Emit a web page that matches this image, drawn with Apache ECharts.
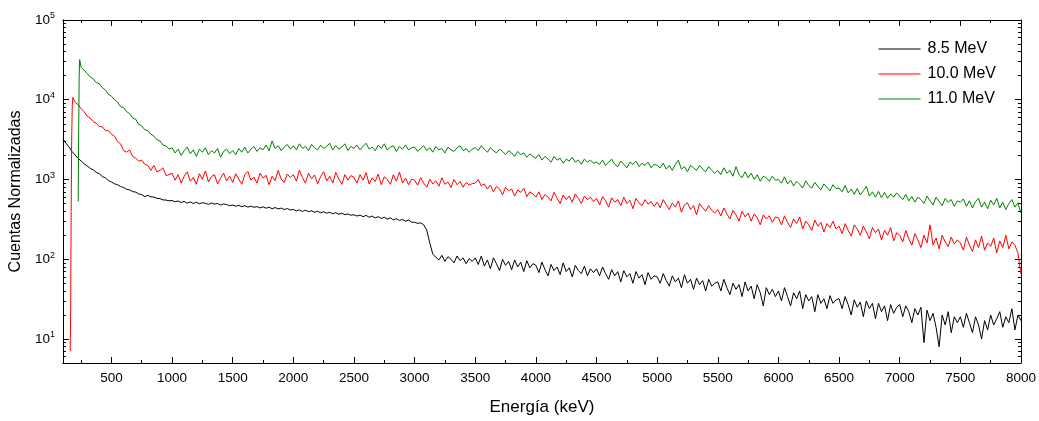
<!DOCTYPE html>
<html>
<head>
<meta charset="utf-8">
<script src="https://cdn.jsdelivr.net/npm/echarts@6/dist/echarts.min.js"></script>
<style>html,body{margin:0;padding:0;background:#fff}#c{width:1039px;height:421px}</style>
</head>
<body>
<div id="c"></div>
<script>
// ---- data ----
const seriesNames = ['8.5 MeV', '10.0 MeV', '11.0 MeV'];
const xTickValues = [500,1000,1500,2000,2500,3000,3500,4000,4500,5000,5500,6000,6500,7000,7500,8000];
const xMinorTickValues = [250,750,1250,1750,2250,2750,3250,3750,4250,4750,5250,5750,6250,6750,7250,7750];
const yTickValues = [10,100,1000,10000,100000];
const yMinorTickValues = [5,6,7,8,9,20,30,40,50,60,70,80,90,200,300,400,500,600,700,800,900,2000,3000,4000,5000,6000,7000,8000,9000,20000,30000,40000,50000,60000,70000,80000,90000];

// heads (low-energy part), energies in keV
const blackHeadE = [100,125,150,175,200,225,250,275,300,325,350,375,400,425,450,475,500,525,550,575,600,625,650,675,700,725,750,775,800,825,850,875,900,925,950,975];
const blackHead  = [3230,2850,2560,2240,2030,1840,1710,1570,1480,1380,1320,1230,1180,1090,1050,970,930,885,860,815,795,755,740,705,695,660,645,610,632,605,603,580,575,555,552,540];

const redHeadE = [160,164,168,172,177,182,190,200,225,250,275,300,325,350,375,400,425,450,475,500,525,550,575,600,625,650,675,700,725,750,775,800,825,850,875,900,925,950,975];
const redHead  = [7,25,400,3000,8500,10700,10100,9300,8700,7700,7100,6200,5900,5300,5100,4600,4600,4100,4100,3700,3500,3000,2800,2300,2200,2350,1950,1850,1700,1750,1550,1500,1300,1500,1250,1300,1400,1120,1150];

const greenHeadE = [226,230,234,238,242,250,275,300,325,350,375,400,425,450,475,500,525,550,575,600,625,650,675,700,725,750,775,800,825,850,875,900,925,950,975];
const greenHead  = [530,4000,20000,31900,30500,25500,23500,21300,19300,18200,16400,15900,14100,13300,11700,11100,10000,9400,8200,8000,7100,6700,5900,5700,4900,4700,4200,4100,3700,3500,3150,3050,2700,2650,2400];

// tails on a 25 keV channel grid from 1000 to 8000 keV
const tailStart = 1000, tailStep = 25;
const blackTail = [
545,525,538,515,530,505,524,500,518,496,512,503,488,508,492,500,478,494,485,470,
478,462,474,455,470,450,463,448,458,440,455,436,450,430,445,428,438,420,432,415,
420,405,416,398,412,395,405,388,400,382,394,378,388,372,384,366,378,362,370,356,
362,348,358,342,355,336,348,330,342,324,336,318,330,312,322,306,316,300,310,292,
290,282,286,270,232,160,116,106,98,112,94,108,100,90,110,96,104,88,102,94,
104,86,110,82,98,76,104,88,72,100,84,94,74,98,80,92,70,96,78,88,
84,68,92,74,62,86,72,80,64,90,70,78,60,84,72,66,82,62,76,68,
76,62,80,66,56,74,62,70,52,72,60,66,50,70,58,64,48,68,56,62,
60,50,66,54,46,62,52,58,44,64,50,56,42,58,48,54,40,56,46,50,
52,40,56,44,36,50,42,48,34,52,40,46,32,48,38,26,44,36,42,34,
40,30,44,34,26,38,32,40,24,36,30,34,22,36,28,32,24,35,28,31,
32,24,34,27,20,31,25,29,19,30,24,28,18,28,22,26,17,27,21,25,
27,19,26,22,16,24,20,25,9,23,17,21,14,8,20,15,22,12,19,16,
19,14,21,16,12,19,15,10,17,13,20,15,18,22,14,19,16,24,13,20,
17];
const redTail = [
1200,980,1150,900,1100,1250,950,1060,870,1180,1010,1280,930,1090,1150,880,1040,1200,960,1100,
920,1180,1010,870,1150,1260,980,1070,900,1200,1040,1130,860,1100,970,1300,1010,920,1170,1060,
1150,950,1310,1060,900,1200,1020,1140,880,1090,1250,960,1100,900,1230,1010,870,1150,980,1120,
1060,900,1150,980,1220,880,1050,940,1170,860,1080,1000,870,1150,950,1240,900,1040,860,1010,
980,850,1060,900,800,1010,880,960,820,1050,870,930,790,1000,860,940,800,920,850,890,
900,1000,830,880,760,850,700,820,760,640,800,720,760,620,740,690,780,610,700,660,
600,700,560,650,600,540,690,580,500,640,560,620,520,660,580,500,620,560,600,530,
580,480,610,540,450,590,520,560,470,600,500,550,430,580,510,470,560,490,530,460,
520,440,560,480,420,510,450,540,390,480,510,420,470,360,500,440,400,470,410,380,
420,350,440,370,320,410,360,300,400,340,380,300,370,330,270,360,320,350,290,340,
330,270,350,290,250,320,280,340,240,300,270,230,310,260,290,220,280,250,300,240,
260,210,280,230,195,270,240,200,260,220,180,250,215,240,175,230,200,250,170,215,
200,165,230,180,150,210,175,140,200,160,270,150,185,135,200,165,145,190,155,175,
160,130,190,150,125,175,140,195,130,160,145,185,120,170,140,200,135,165,150,120,
65];
const greenTail = [
2500,2150,2400,2000,2300,2550,2100,2350,1950,2400,2200,2500,2050,2300,2150,2450,1900,2250,2400,2100,
2300,2050,2450,2200,2550,2150,2400,2600,2250,2500,2350,2700,2300,3050,2450,2650,2300,2550,2750,2400,
2650,2350,2800,2450,2600,2300,2750,2500,2350,2700,2450,2600,2850,2350,2650,2400,2550,2800,2300,2600,
2450,2700,2350,2600,2850,2400,2550,2300,2700,2450,2800,2350,2550,2650,2250,2600,2400,2700,2350,2500,
2550,2250,2450,2650,2300,2500,2200,2600,2350,2450,2150,2550,2350,2250,2500,2650,2300,2450,2200,2400,
2500,2300,2650,2400,2200,2500,2300,2150,2400,2250,2050,2300,2150,1950,2250,2050,2150,1900,2100,1950,
1850,2050,1750,1950,1800,1650,1950,1750,1850,1600,1800,1700,1900,1650,1750,1550,1800,1650,1750,1600,
1650,1550,1750,1500,1650,1800,1550,1450,1700,1550,1400,1650,1550,1700,1450,1600,1500,1650,1400,1550,
1500,1400,1600,1350,1500,1300,1550,1750,1350,1450,1250,1500,1400,1300,1500,1350,1250,1450,1300,1200,
1300,1150,1400,1200,1300,1100,1450,1150,1050,1250,1050,1200,1000,1150,950,1100,1050,950,1100,980,
1000,900,1080,880,980,830,950,870,780,960,840,780,920,820,740,880,800,720,860,770,
780,700,840,680,760,650,770,640,720,820,620,700,600,710,590,690,580,660,600,680,
620,560,650,540,610,520,600,560,500,620,540,480,600,530,470,580,520,560,460,540,
520,570,460,540,440,530,580,450,520,430,550,480,580,440,520,420,500,560,450,510,
380];

// ---- build ----
function build(headE, head, tail) {
  const out = headE.map((e, i) => [e, head[i]]);
  tail.forEach((v, i) => out.push([tailStart + i * tailStep, v]));
  return out;
}
const colors = ['#000000', '#ff0000', '#008000'];
const datasets = [build(blackHeadE, blackHead, blackTail), build(redHeadE, redHead, redTail), build(greenHeadE, greenHead, greenTail)];

const FONT = 'Liberation Sans, Arial, sans-serif';
const lineStyle = { color: '#000', width: 1 };
function xAx(pos, ticks, len, show, extra) {
  return Object.assign({
    type: 'value', min: 100, max: 8000, position: pos, gridIndex: 0,
    axisLine: { show: show, lineStyle: lineStyle, onZero: false },
    axisTick: { show: true, inside: true, length: len, customValues: ticks, lineStyle: lineStyle },
    axisLabel: { show: false },
    splitLine: { show: false }
  }, extra || {});
}
function yAx(pos, ticks, len, show, extra) {
  return Object.assign({
    type: 'log', logBase: 10, min: 5, max: 100000, position: pos, gridIndex: 0,
    axisLine: { show: show, lineStyle: lineStyle, onZero: false },
    axisTick: { show: true, inside: true, length: len, customValues: ticks, lineStyle: lineStyle },
    axisLabel: { show: false },
    splitLine: { show: false }
  }, extra || {});
}

const chart = echarts.init(document.getElementById('c'), null, { renderer: 'canvas' });
chart.setOption({
  animation: false,
  backgroundColor: '#fff',
  textStyle: { fontFamily: FONT },
  grid: { left: 62, right: 18, top: 20, bottom: 50, containLabel: false },
  legend: {
    orient: 'vertical', right: 38, top: 36, itemWidth: 42, itemHeight: 1, itemGap: 9,
    icon: 'rect',
    data: seriesNames,
    textStyle: { fontSize: 16, color: '#000', fontFamily: FONT, padding: [0, 0, 0, 2] }
  },
  xAxis: [
    xAx('bottom', xTickValues, 6, true, {
      name: 'Energía (keV)', nameLocation: 'middle', nameGap: 36,
      nameTextStyle: { fontSize: 17, color: '#000', fontFamily: FONT },
      axisLabel: { show: true, customValues: xTickValues, fontSize: 13.5, color: '#000', margin: 8, fontFamily: FONT,
        formatter: function (v) { return String(v); } }
    }),
    xAx('bottom', xMinorTickValues, 3, false),
    xAx('top', xTickValues, 6, true),
    xAx('top', xMinorTickValues, 3, false)
  ],
  yAxis: [
    yAx('left', yTickValues, 6, true, {
      name: 'Cuentas Normalizadas', nameLocation: 'middle', nameGap: 35,
      nameTextStyle: { fontSize: 16, color: '#000', fontFamily: FONT },
      axisLabel: {
        show: true, customValues: yTickValues, margin: 8, color: '#000',
        formatter: function (v) { return '{b|10}{s|' + Math.round(Math.log10(v)) + '}'; },
        rich: {
          b: { fontSize: 13.5, color: '#000', fontFamily: FONT },
          s: { fontSize: 9, color: '#000', fontFamily: FONT, verticalAlign: 'top', padding: [0, 0, 8, 0] }
        }
      }
    }),
    yAx('left', yMinorTickValues, 3, false),
    yAx('right', yTickValues, 6, true),
    yAx('right', yMinorTickValues, 3, false)
  ],
  series: datasets.map((d, i) => ({
    name: seriesNames[i], type: 'line', data: d, xAxisIndex: 0, yAxisIndex: 0,
    symbol: 'none', showSymbol: false, silent: true,
    lineStyle: { color: colors[i], width: 1 }, itemStyle: { color: colors[i] }
  }))
});
</script>
</body>
</html>
